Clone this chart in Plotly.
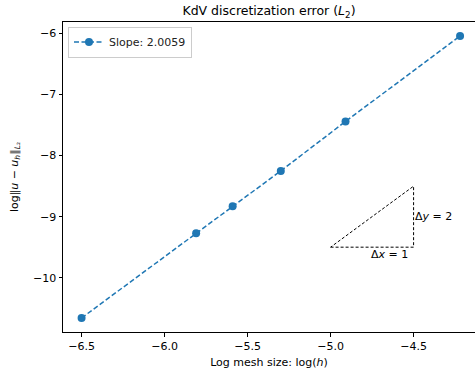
import plotly.graph_objects as go

log_h = [-6.50, -5.81, -5.59, -5.30, -4.91, -4.22]
log_err = [-10.66, -9.27, -8.83, -8.25, -7.44, -6.04]
slope_label = "Slope: 2.0059"
tri_x = [-5.0, -4.5, -4.5, -5.0]
tri_y = [-9.5, -9.5, -8.5, -9.5]
x_ticks = [-6.5, -6.0, -5.5, -5.0, -4.5]
y_ticks = [-10, -9, -8, -7, -6]

W, H = 475, 375
ml, mr, mt, mb = 63, 0, 22, 43
font = "DejaVu Sans"
blue = "#1f77b4"

fig = go.Figure()
fig.add_trace(go.Scatter(
    x=log_h, y=log_err, mode="lines+markers", name=slope_label,
    line=dict(color=blue, width=1.5, dash="5px,2.5px"),
    marker=dict(color=blue, size=8),
))
fig.add_trace(go.Scatter(
    x=tri_x, y=tri_y, mode="lines", showlegend=False,
    line=dict(color="black", width=1, dash="3px,2px"),
    hoverinfo="skip",
))

fig.add_annotation(x=tri_x[1], y=(tri_y[1] + tri_y[2]) / 2, text="Δ<i>y</i> = 2",
                   showarrow=False, xanchor="left", yanchor="middle", xshift=-1,
                   font=dict(family=font, size=11, color="black"))
fig.add_annotation(x=-4.75, y=tri_y[0], text="Δ<i>x</i> = 1",
                   showarrow=False, xanchor="left", yanchor="top", yshift=1, xshift=-3,
                   font=dict(family=font, size=11, color="black"))

fig.update_layout(
    width=W, height=H,
    margin=dict(l=ml, r=mr, t=mt, b=mb),
    paper_bgcolor="white", plot_bgcolor="white",
    font=dict(family=font, size=11, color="black"),
    title=dict(text="KdV discretization error (<i>L</i><sub>2</sub>)",
               x=0.5, xref="paper", xanchor="center",
               y=1 - 11 / H, yref="container", yanchor="middle",
               font=dict(family=font, size=12.5, color="black")),
    showlegend=True,
    legend=dict(x=(68 - ml) / (W - ml - mr), y=1 - (26.5 - mt) / (H - mt - mb),
                xanchor="left", yanchor="top",
                bgcolor="rgba(255,255,255,0.8)", bordercolor="#cccccc", borderwidth=1,
                font=dict(family=font, size=11, color="#222"),
                itemwidth=30),
)
fig.update_xaxes(
    range=[-6.612, -6.612 + (W - ml - mr) / 166.0],
    tickvals=x_ticks, tickformat=".1f",
    showgrid=False, zeroline=False,
    showline=True, linecolor="black", linewidth=1, mirror=True,
    ticks="outside", ticklen=3.5, tickcolor="black", tickwidth=1,
    tickfont=dict(family=font, size=11, color="black"),
    title=dict(text="Log mesh size: log(<i>h</i>)", standoff=6,
               font=dict(family=font, size=11, color="black")),
)
fig.update_yaxes(
    range=[-10.89, -5.81],
    tickvals=y_ticks, tickformat="d",
    showgrid=False, zeroline=False,
    showline=True, linecolor="black", linewidth=1, mirror=False,
    ticks="outside", ticklen=3.5, tickcolor="black", tickwidth=1,
    tickfont=dict(family=font, size=11, color="black"),
    title=dict(text="log‖<i>u</i> − <i>u</i><sub><i>h</i></sub>‖<sub><i>L</i>₂</sub>", standoff=12,
               font=dict(family=font, size=11, color="black")),
)

fig.write_html("out.html")
